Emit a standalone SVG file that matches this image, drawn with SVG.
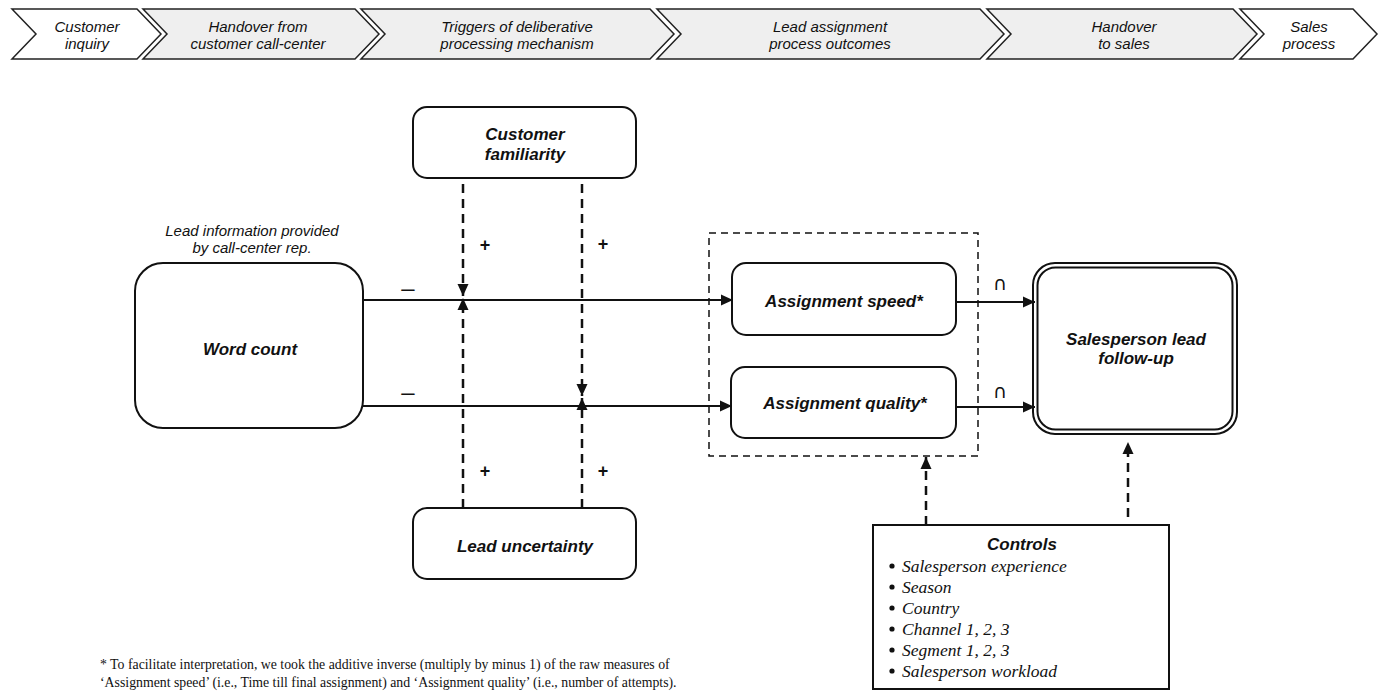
<svg xmlns="http://www.w3.org/2000/svg" width="1379" height="695" viewBox="0 0 1379 695">
<style>
.chev{stroke:#222;stroke-width:1.5;stroke-linejoin:miter}
.w{fill:#fff}
.g{fill:#efefef}
.ct{font-family:"Liberation Sans",Arial,sans-serif;font-style:italic;font-size:15px;fill:#111;text-anchor:middle}
.box{fill:#fff;stroke:#111;stroke-width:2}
.nt{font-family:"Liberation Sans",Arial,sans-serif;font-style:italic;font-weight:bold;font-size:17px;fill:#111;text-anchor:middle}
.lbl{font-family:"Liberation Sans",Arial,sans-serif;font-style:italic;font-size:15px;fill:#111;text-anchor:middle}
.sign{font-family:"Liberation Sans",Arial,sans-serif;font-weight:bold;font-size:18px;fill:#111;text-anchor:middle}
.minus{font-family:"Liberation Sans",Arial,sans-serif;font-size:24px;fill:#111;text-anchor:middle}
.cap{font-family:"DejaVu Sans",sans-serif;font-size:19px;fill:#111;text-anchor:middle}
.solid{stroke:#111;stroke-width:2;fill:none}
.dash{stroke:#111;stroke-width:2.5;fill:none;stroke-dasharray:9 6}
.dbox{stroke:#111;stroke-width:1.5;fill:none;stroke-dasharray:7 5}
.ser{font-family:"Liberation Serif","Times New Roman",serif;font-style:italic;font-size:17.5px;fill:#111}
.foot{font-family:"Liberation Serif","Times New Roman",serif;font-size:13.8px;fill:#111}
</style>
<defs>
<marker id="ah" viewBox="0 0 12 12" refX="12" refY="6" markerWidth="12" markerHeight="12" markerUnits="userSpaceOnUse" orient="auto">
<path d="M0,0.5 L12,6 L0,11.5 z" fill="#111"/>
</marker>
</defs>

<g id="phases">
<polygon class="chev w" points="12,9 137,9 161,34 137,59 12,59 36,34"/>
<text class="ct" x="87" y="32">Customer</text>
<text class="ct" x="87" y="49">inquiry</text>
<polygon class="chev g" points="143,9 355,9 379,34 355,59 143,59 167,34"/>
<text class="ct" x="258" y="32">Handover from</text>
<text class="ct" x="258" y="49">customer call-center</text>
<polygon class="chev g" points="361,9 650,9 674,34 650,59 361,59 385,34"/>
<text class="ct" x="517" y="32">Triggers of deliberative</text>
<text class="ct" x="517" y="49">processing mechanism</text>
<polygon class="chev g" points="657,9 980,9 1004,34 980,59 657,59 681,34"/>
<text class="ct" x="830" y="32">Lead assignment</text>
<text class="ct" x="830" y="49">process outcomes</text>
<polygon class="chev g" points="987,9 1233,9 1257,34 1233,59 987,59 1011,34"/>
<text class="ct" x="1124" y="32">Handover</text>
<text class="ct" x="1124" y="49">to sales</text>
<polygon class="chev w" points="1240,9 1353,9 1377,34 1353,59 1240,59 1264,34"/>
<text class="ct" x="1309" y="32">Sales</text>
<text class="ct" x="1309" y="49">process</text>
</g>

<g id="customer-familiarity">
<rect class="box" x="413" y="107" width="223" height="71" rx="14"/>
<text class="nt" x="525" y="140">Customer</text>
<text class="nt" x="525" y="160">familiarity</text>
</g>

<g id="word-count">
<text class="lbl" x="252" y="236">Lead information provided</text>
<text class="lbl" x="252" y="253">by call-center rep.</text>
<rect class="box" x="135" y="263" width="228" height="165" rx="28"/>
<text class="nt" x="250" y="355">Word count</text>
</g>

<g id="lead-uncertainty">
<rect class="box" x="413" y="508" width="223" height="71" rx="14"/>
<text class="nt" x="525" y="552">Lead uncertainty</text>
</g>

<g id="outcomes-group">
<rect class="dbox" x="709" y="233" width="269" height="223"/>
</g>

<g id="assignment-speed">
<rect class="box" x="732" y="263" width="224" height="72" rx="14"/>
<text class="nt" x="844" y="307">Assignment speed*</text>
</g>

<g id="assignment-quality">
<rect class="box" x="731" y="367" width="225" height="71" rx="14"/>
<text class="nt" x="845" y="409">Assignment quality*</text>
</g>

<g id="salesperson-follow-up">
<rect class="box" x="1033" y="263" width="204" height="171" rx="22"/>
<rect class="box" x="1037.5" y="267.5" width="195" height="162" rx="18"/>
<text class="nt" x="1136" y="345">Salesperson lead</text>
<text class="nt" x="1136" y="364">follow-up</text>
</g>

<g id="controls">
<rect class="box" x="873" y="525" width="296" height="164" stroke-width="1.8"/>
<text class="nt" x="1022" y="550">Controls</text>
<g fill="#111">
<circle cx="892" cy="566" r="2.6"/>
<circle cx="892" cy="587" r="2.6"/>
<circle cx="892" cy="608" r="2.6"/>
<circle cx="892" cy="629" r="2.6"/>
<circle cx="892" cy="650" r="2.6"/>
<circle cx="892" cy="671" r="2.6"/>
</g>
<text class="ser" x="902" y="572">Salesperson experience</text>
<text class="ser" x="902" y="593">Season</text>
<text class="ser" x="902" y="614">Country</text>
<text class="ser" x="902" y="635">Channel 1, 2, 3</text>
<text class="ser" x="902" y="656">Segment 1, 2, 3</text>
<text class="ser" x="902" y="677">Salesperson workload</text>
</g>

<g id="connectors">
<line class="solid" x1="363" y1="300" x2="733" y2="300" marker-end="url(#ah)"/>
<line class="solid" x1="363" y1="406" x2="732" y2="406" marker-end="url(#ah)"/>
<line class="solid" x1="956" y1="302" x2="1035" y2="302" marker-end="url(#ah)"/>
<line class="solid" x1="956" y1="407" x2="1035" y2="407" marker-end="url(#ah)"/>
<line class="dash" x1="463" y1="184" x2="463" y2="296" marker-end="url(#ah)"/>
<line class="dash" x1="582" y1="184" x2="582" y2="396" marker-end="url(#ah)"/>
<line class="dash" x1="463" y1="508" x2="463" y2="298" marker-end="url(#ah)"/>
<line class="dash" x1="582" y1="508" x2="582" y2="398" marker-end="url(#ah)"/>
<line class="dash" x1="926" y1="525" x2="926" y2="457" marker-end="url(#ah)"/>
<line class="dash" x1="1128" y1="517" x2="1128" y2="442" marker-end="url(#ah)"/>
</g>

<g id="signs">
<text class="minus" x="408" y="296">–</text>
<text class="minus" x="408" y="400">–</text>
<text class="sign" x="485" y="251">+</text>
<text class="sign" x="603" y="250">+</text>
<text class="sign" x="485" y="477">+</text>
<text class="sign" x="603" y="477">+</text>
<text class="cap" x="1000" y="290">∩</text>
<text class="cap" x="1000" y="398">∩</text>
</g>

<g id="footnote">
<text class="foot" x="100" y="669">* To facilitate interpretation, we took the additive inverse (multiply by minus 1) of the raw measures of</text>
<text class="foot" x="100" y="687">‘Assignment speed’ (i.e., Time till final assignment) and ‘Assignment quality’ (i.e., number of attempts).</text>
</g>
</svg>
